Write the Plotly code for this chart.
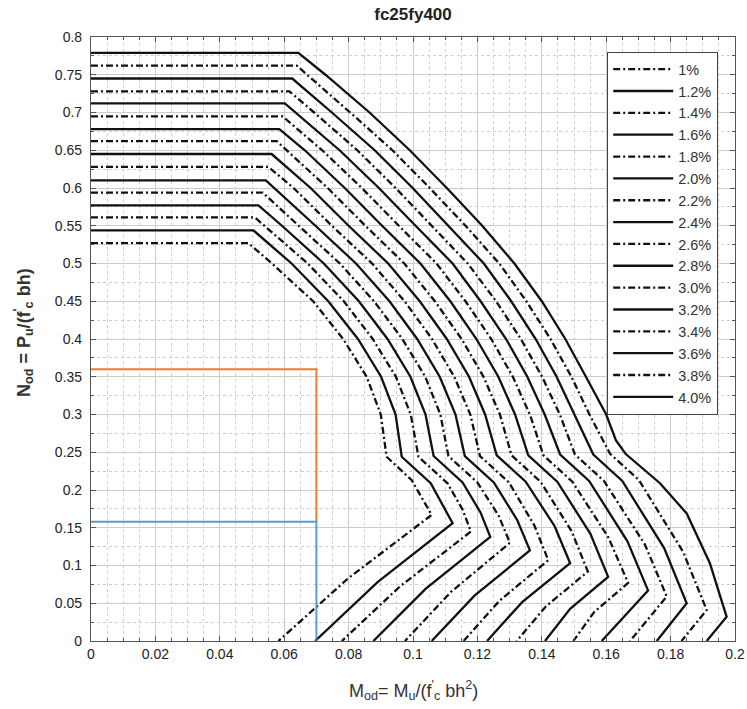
import plotly.graph_objects as go

# ---------------- data ----------------
labels = ["1%", "1.2%", "1.4%", "1.6%", "1.8%", "2.0%", "2.2%", "2.4%",
          "2.6%", "2.8%", "3.0%", "3.2%", "3.4%", "3.6%", "3.8%", "4.0%"]
dashed = [True, False] * 8

m_10 = [0, 0.0489, 0.0562, 0.0690, 0.0783, 0.0856, 0.0900, 0.0918, 0.0996, 0.1058, 0.0800, 0.0582]
n_10 = [0.527, 0.527, 0.50, 0.45, 0.40, 0.35, 0.30, 0.244, 0.213, 0.167, 0.0835, 0]

m_12 = [0, 0.0504, 0.0623, 0.0737, 0.0829, 0.0901, 0.0946, 0.0965, 0.1055, 0.1123, 0.0890, 0.0696]
n_12 = [0.544, 0.544, 0.50, 0.45, 0.40, 0.35, 0.30, 0.244, 0.209, 0.156, 0.078, 0]

m_14 = [0, 0.0509, 0.0673, 0.0785, 0.0875, 0.0947, 0.0993, 0.1017, 0.1107, 0.1154, 0.1180, 0.0960, 0.0779]
n_14 = [0.561, 0.561, 0.50, 0.45, 0.40, 0.35, 0.30, 0.244, 0.209, 0.174, 0.145, 0.0725, 0]

m_16 = [0, 0.0520, 0.0593, 0.0723, 0.0832, 0.0921, 0.0992, 0.1039, 0.1064, 0.1154, 0.1210, 0.1240, 0.1039, 0.0877]
n_16 = [0.577, 0.577, 0.55, 0.50, 0.45, 0.40, 0.35, 0.30, 0.245, 0.210, 0.170, 0.138, 0.069, 0]

m_18 = [0, 0.0533, 0.0645, 0.0773, 0.0879, 0.0967, 0.1038, 0.1085, 0.1110, 0.1200, 0.1266, 0.1301, 0.1118, 0.0975]
n_18 = [0.594, 0.594, 0.55, 0.50, 0.45, 0.40, 0.35, 0.30, 0.245, 0.210, 0.166, 0.130, 0.065, 0]

m_20 = [0, 0.0543, 0.0697, 0.0823, 0.0927, 0.1013, 0.1083, 0.1132, 0.1161, 0.1251, 0.1324, 0.1363, 0.1191, 0.1058]
n_20 = [0.610, 0.610, 0.55, 0.50, 0.45, 0.40, 0.35, 0.30, 0.245, 0.210, 0.160, 0.120, 0.060, 0]

m_22 = [0, 0.0551, 0.0629, 0.0748, 0.0873, 0.0974, 0.1059, 0.1128, 0.1178, 0.1208, 0.1298, 0.1377, 0.1420, 0.1269, 0.1157]
n_22 = [0.628, 0.628, 0.60, 0.55, 0.50, 0.45, 0.40, 0.35, 0.30, 0.245, 0.210, 0.153, 0.107, 0.0535, 0]

m_24 = [0, 0.0561, 0.0682, 0.0800, 0.0923, 0.1021, 0.1105, 0.1174, 0.1224, 0.1260, 0.1350, 0.1440, 0.1488, 0.1339, 0.1230]
n_24 = [0.645, 0.645, 0.60, 0.55, 0.50, 0.45, 0.40, 0.35, 0.30, 0.246, 0.211, 0.152, 0.103, 0.0515, 0]

m_26 = [0, 0.0577, 0.0735, 0.0852, 0.0973, 0.1068, 0.1151, 0.1219, 0.1270, 0.1306, 0.1396, 0.1492, 0.1543, 0.1413, 0.1322]
n_26 = [0.662, 0.662, 0.60, 0.55, 0.50, 0.45, 0.40, 0.35, 0.30, 0.246, 0.211, 0.146, 0.092, 0.046, 0]

m_28 = [0, 0.0585, 0.0664, 0.0788, 0.0904, 0.1023, 0.1116, 0.1197, 0.1265, 0.1317, 0.1358, 0.1448, 0.1551, 0.1606, 0.1488, 0.1410]
n_28 = [0.678, 0.678, 0.65, 0.60, 0.55, 0.50, 0.45, 0.40, 0.35, 0.30, 0.246, 0.211, 0.142, 0.085, 0.0425, 0]

m_30 = [0, 0.0595, 0.0718, 0.0841, 0.0956, 0.1073, 0.1163, 0.1243, 0.1310, 0.1363, 0.1405, 0.1495, 0.1607, 0.1668, 0.1563, 0.1498]
n_30 = [0.695, 0.695, 0.65, 0.60, 0.55, 0.50, 0.45, 0.40, 0.35, 0.30, 0.246, 0.211, 0.137, 0.077, 0.0385, 0]

m_32 = [0, 0.0602, 0.0772, 0.0894, 0.1008, 0.1123, 0.1210, 0.1289, 0.1355, 0.1409, 0.1457, 0.1547, 0.1666, 0.1730, 0.1586]
n_32 = [0.712, 0.712, 0.65, 0.60, 0.55, 0.50, 0.45, 0.40, 0.35, 0.30, 0.247, 0.212, 0.132, 0.067, 0]

m_34 = [0, 0.0616, 0.0693, 0.0827, 0.0946, 0.1059, 0.1170, 0.1258, 0.1335, 0.1401, 0.1456, 0.1503, 0.1593, 0.1720, 0.1788, 0.1674]
n_34 = [0.728, 0.728, 0.70, 0.65, 0.60, 0.55, 0.50, 0.45, 0.40, 0.35, 0.30, 0.247, 0.212, 0.128, 0.059, 0]

m_36 = [0, 0.0625, 0.0748, 0.0881, 0.0999, 0.1111, 0.1220, 0.1305, 0.1381, 0.1446, 0.1502, 0.1560, 0.1650, 0.1780, 0.1850, 0.1757]
n_36 = [0.745, 0.745, 0.70, 0.65, 0.60, 0.55, 0.50, 0.45, 0.40, 0.35, 0.30, 0.247, 0.212, 0.123, 0.050, 0]

m_38 = [0, 0.0639, 0.0805, 0.0936, 0.1052, 0.1163, 0.1268, 0.1352, 0.1427, 0.1492, 0.1548, 0.1612, 0.1702, 0.1839, 0.1912, 0.1834]
n_38 = [0.762, 0.762, 0.70, 0.65, 0.60, 0.55, 0.50, 0.45, 0.40, 0.35, 0.30, 0.248, 0.213, 0.118, 0.041, 0]

m_40 = [0, 0.0644, 0.0728, 0.0865, 0.0990, 0.1105, 0.1215, 0.1315, 0.1400, 0.1473, 0.1537, 0.1600, 0.1630, 0.1660, 0.1767, 0.1850, 0.1922, 0.1974, 0.1912]
n_40 = [0.779, 0.779, 0.75, 0.70, 0.65, 0.60, 0.55, 0.50, 0.45, 0.40, 0.35, 0.30, 0.266, 0.248, 0.209, 0.169, 0.103, 0.032, 0]

curves = [(m_10, n_10), (m_12, n_12), (m_14, n_14), (m_16, n_16),
          (m_18, n_18), (m_20, n_20), (m_22, n_22), (m_24, n_24),
          (m_26, n_26), (m_28, n_28), (m_30, n_30), (m_32, n_32),
          (m_34, n_34), (m_36, n_36), (m_38, n_38), (m_40, n_40)]

# design point guide lines
orange_m = [0, 0.07, 0.07]
orange_n = [0.360, 0.360, 0.158]
blue_m = [0, 0.07, 0.07]
blue_n = [0.158, 0.158, 0]

x_ticks = [0, 0.02, 0.04, 0.06, 0.08, 0.1, 0.12, 0.14, 0.16, 0.18, 0.2]
x_tick_text = ["0", "0.02", "0.04", "0.06", "0.08", "0.1", "0.12", "0.14", "0.16", "0.18", "0.2"]
y_ticks = [0, 0.05, 0.1, 0.15, 0.2, 0.25, 0.3, 0.35, 0.4, 0.45, 0.5, 0.55, 0.6, 0.65, 0.7, 0.75, 0.8]
y_tick_text = ["0", "0.05", "0.1", "0.15", "0.2", "0.25", "0.3", "0.35", "0.4", "0.45",
               "0.5", "0.55", "0.6", "0.65", "0.7", "0.75", "0.8"]

# ---------------- figure ----------------
FONT = "Liberation Sans, Arial, Helvetica, sans-serif"
fig = go.Figure()

for (m, n), lab, dsh in zip(curves, labels, dashed):
    fig.add_trace(go.Scatter(
        x=m, y=n, mode="lines", name=lab,
        line=dict(color="#111111", width=2.3,
                  dash="7px,3px,2px,3px" if dsh else "solid"),
    ))

fig.add_trace(go.Scatter(x=orange_m, y=orange_n, mode="lines", showlegend=False,
                         line=dict(color="#ED7D31", width=2)))
fig.add_trace(go.Scatter(x=blue_m, y=blue_n, mode="lines", showlegend=False,
                         line=dict(color="#5B9BD5", width=2)))

axis_common = dict(
    showline=True, linecolor="#555555", linewidth=1.2, mirror="ticks",
    ticks="inside", ticklen=5, tickcolor="#555555",
    showgrid=True, gridcolor="#cccccc", gridwidth=1,
    zeroline=False,
    tickfont=dict(family=FONT, size=14, color="#222222"),
)

fig.update_xaxes(
    range=[0, 0.2], tickvals=x_ticks, ticktext=x_tick_text,
    minor=dict(dtick=0.005, showgrid=True, gridcolor="#cfcfcf", griddash="dot",
               ticks="inside", ticklen=3, tickcolor="#555555"),
    **axis_common,
)
fig.update_yaxes(
    range=[0, 0.8], tickvals=y_ticks, ticktext=y_tick_text,
    ticklabelstandoff=5,
    minor=dict(dtick=0.025, showgrid=True, gridcolor="#cfcfcf", griddash="dot",
               ticks="inside", ticklen=3, tickcolor="#555555"),
    **axis_common,
)

fig.update_layout(
    width=747, height=709,
    margin=dict(l=91, r=12, t=37, b=68, autoexpand=False),
    paper_bgcolor="white", plot_bgcolor="white",
    font=dict(family=FONT, color="#222222"),
    title=dict(text="<b>fc25fy400</b>", x=0.5, xref="paper", xanchor="center",
               y=1 - 14 / 709, yref="container", yanchor="middle",
               font=dict(family=FONT, size=17, color="#222222")),
    legend=dict(x=(607 - 91) / 644, y=(641 - 52) / 604, xanchor="left", yanchor="top",
                bgcolor="white", bordercolor="#444444", borderwidth=1.2,
                font=dict(family=FONT, size=14.5, color="#333333"),
                itemwidth=60, tracegroupgap=0),
    showlegend=True,
    annotations=[
        dict(text="M<sub>od</sub>= M<sub>u</sub>/(f<sup>'</sup><sub>c</sub> bh<sup>2</sup>)",
             x=0.5, y=(641 - 690) / 604, xref="paper", yref="paper",
             xanchor="center", yanchor="middle", showarrow=False,
             font=dict(family=FONT, size=18, color="#333333")),
        dict(text="<b>N<sub>od</sub> = P<sub>u</sub>/(f<sup>'</sup><sub>c</sub> bh)</b>",
             x=(24 - 91) / 644, y=(641 - 333) / 604, xref="paper", yref="paper",
             xanchor="center", yanchor="middle", textangle=-90, showarrow=False,
             font=dict(family=FONT, size=18, color="#333333")),
    ],
)

fig.write_html("out.html")
